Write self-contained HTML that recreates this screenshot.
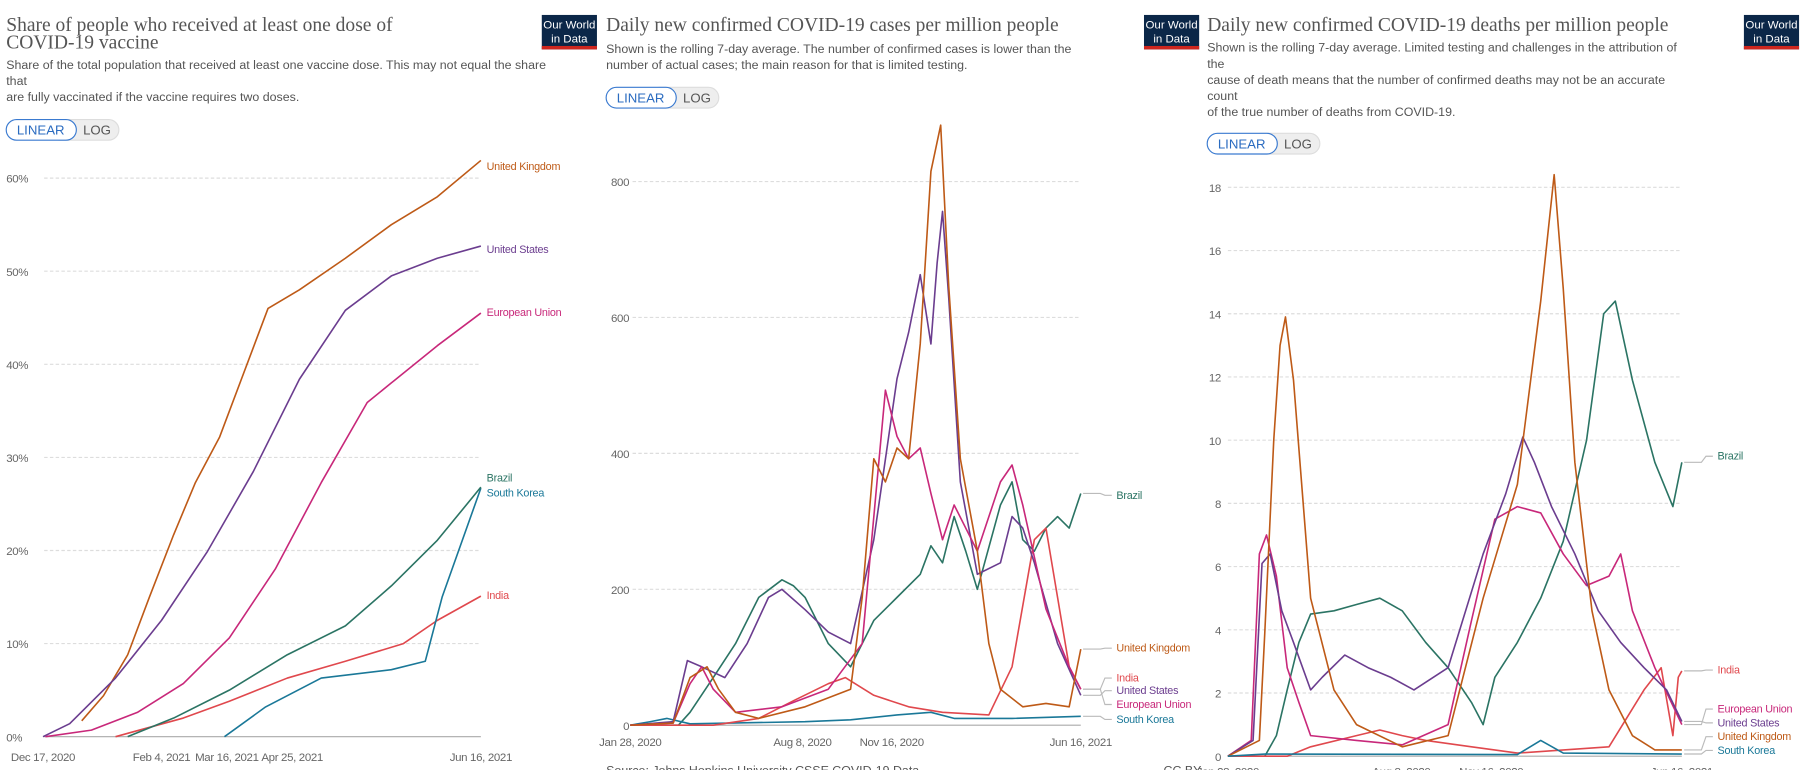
<!DOCTYPE html>
<html><head><meta charset="utf-8"><style>
html,body{margin:0;padding:0;background:#fff;overflow:hidden}
svg{display:block}
.t{font-family:"Liberation Serif",serif;fill:#555;font-size:17px}
.s{font-family:"Liberation Sans",sans-serif;fill:#555;font-size:10.8px}
.k{font-family:"Liberation Sans",sans-serif;fill:#666;font-size:10px;letter-spacing:-0.3px}
.l{font-family:"Liberation Sans",sans-serif;font-size:9.4px;letter-spacing:-0.2px}
</style></head><body>
<svg id="root" width="1803" height="770" viewBox="0 0 1568 670">
</svg>
<script>
// ---------- Panel 1: vaccination share (%) ; x = days since Dec 17, 2020 ----------
const p1Ticks = [0,10,20,30,40,50,60];
const p1TickLabels = ['0%','10%','20%','30%','40%','50%','60%'];
const p1XTicks = [0,49,76,103,181];
const p1XLabels = ['Dec 17, 2020','Feb 4, 2021','Mar 16, 2021','Apr 25, 2021','Jun 16, 2021'];
const p1Names = ['United Kingdom','United States','European Union','Brazil','South Korea','India'];
const p1UKd=[16,25,35,44,54,63,73,82,93,106,125,144,163,181];
const p1UKv=[1.7,4.4,8.8,15,21.7,27.3,32.2,38.4,46,48,51.4,55,58,61.9];
const p1USd=[0,11,30,49,68,87,106,125,144,163,181];
const p1USv=[0,1.4,6.3,12.5,19.9,28.5,38.4,45.8,49.5,51.4,52.7];
const p1EUd=[1,20,39,58,77,96,115,134,144,163,181];
const p1EUv=[0,0.7,2.6,5.7,10.6,18,27.3,35.9,38,42,45.5];
const p1BRd=[35,54,77,101,125,144,163,181];
const p1BRv=[0,2,5,8.8,11.9,16.2,21.1,26.8];
const p1KRd=[75,92,115,144,158,165,181];
const p1KRv=[0,3.2,6.3,7.2,8.1,15,26.7];
const p1INd=[30,58,77,101,125,149,163,181];
const p1INv=[0,2,3.8,6.3,8.1,10,12.5,15.1];

// ---------- Panel 2: daily cases per million ; x = days since Jan 28, 2020 ----------
const p2Ticks=[0,200,400,600,800];
const p2TickLabels=['0','200','400','600','800'];
const p2XTicks=[0,193,293,505];
const p2XLabels=['Jan 28, 2020','Aug 8, 2020','Nov 16, 2020','Jun 16, 2021'];
const p2BRd=[0,54,67,93,118,144,170,183,196,222,247,273,299,325,337,350,363,376,389,415,428,440,453,466,479,492,505];
const p2BRv=[0,0,19,70,120,188,214,205,188,120,86,154,188,222,264,239,307,256,200,324,358,273,256,290,307,290,341];
const p2USd=[0,48,64,80,106,131,155,170,196,222,247,273,299,312,325,337,344,350,357,370,389,415,428,440,453,479,505];
const p2USv=[0,5,95,86,70,120,188,200,170,137,120,273,510,578,663,561,680,756,629,358,222,239,307,290,239,120,44];
const p2UKd=[0,48,67,86,99,118,144,196,247,260,273,286,299,312,325,337,348,357,370,389,402,415,440,466,492,505];
const p2UKv=[0,3,70,86,53,19,10,27,53,188,392,358,408,392,561,815,883,646,392,256,120,53,27,32,27,112];
const p2EUd=[0,48,67,80,93,118,170,222,260,286,299,312,325,337,350,363,389,415,428,440,466,492,505];
const p2EUv=[0,3,61,86,53,19,27,53,120,493,425,392,408,341,273,324,256,358,383,324,171,86,53];
const p2INd=[0,93,144,183,222,241,273,312,350,402,428,453,466,479,492,505];
const p2INv=[0,0,10,36,61,70,44,27,19,15,86,273,290,188,86,53];
const p2KRd=[0,22,41,67,196,247,299,337,363,428,505];
const p2KRv=[0,5,10,2,5,8,15,19,10,10,13];

// ---------- Panel 3: daily deaths per million ----------
const p3Ticks=[0,2,4,6,8,10,12,14,16,18];
const p3TickLabels=['0','2','4','6','8','10','12','14','16','18'];
const p3XTicks=[0,193,293,505];
const p3XLabels=['Jan 28, 2020','Aug 8, 2020','Nov 16, 2020','Jun 16, 2021'];
const p3BRd=[0,41,54,66,79,92,118,143,169,194,220,245,271,284,297,322,348,373,399,418,431,450,475,495,505];
const p3BRv=[0,0,0.65,2.1,3.6,4.5,4.6,4.8,5,4.6,3.6,2.8,1.7,1,2.5,3.6,5,6.8,10,14,14.4,11.9,9.3,7.9,9.3];
const p3USd=[0,28,38,47,60,73,92,105,130,156,181,207,245,284,309,328,341,360,386,412,437,463,488,505];
const p3USv=[0,0.5,6.1,6.4,4.6,3.6,2.1,2.5,3.2,2.8,2.5,2.1,2.8,6.4,8.3,10.1,9.3,7.9,6.4,4.6,3.6,2.8,2.1,1.1];
const p3UKd=[0,35,41,51,58,64,73,92,118,143,194,245,284,303,322,348,363,373,386,405,424,450,475,505];
const p3UKv=[0,0.5,3.9,10,13,13.9,11.9,5,2.1,1,0.3,0.65,5,6.8,8.6,14.4,18.4,14.8,9.3,4.6,2.1,0.65,0.2,0.2];
const p3EUd=[0,26,35,43,54,66,79,92,143,194,245,271,297,322,348,373,399,424,437,450,475,505];
const p3EUv=[0,0.5,6.4,7,5.7,2.8,1.7,0.65,0.5,0.36,1,4.3,7.5,7.9,7.7,6.4,5.4,5.7,6.4,4.6,2.8,1];
const p3INd=[0,66,92,143,169,194,220,271,322,424,463,482,495,501,505];
const p3INv=[0,0,0.3,0.65,0.83,0.65,0.5,0.3,0.1,0.3,2.1,2.8,0.65,2.5,2.7];
const p3KRd=[0,41,322,348,373,505];
const p3KRv=[0,0.07,0.05,0.5,0.1,0.07];

const C={UK:'#be5a17',US:'#6b3d8f',EU:'#c8287a',IN:'#e0484d',BR:'#2b7464',KR:'#1a7898'};
const NS='http://www.w3.org/2000/svg';
const root=document.getElementById('root');
function mk(tag,attrs,parent,text){const e=document.createElementNS(NS,tag);for(const k in attrs)e.setAttribute(k,attrs[k]);if(text!==undefined)e.textContent=text;(parent||root).appendChild(e);return e;}

function header(g,x0,title,sub,subY,btnY,logoX){
  const grp=mk('g',{},g);
  title.forEach((t,i)=>{const e=mk('text',{x:x0,y:27+i*15,class:'t'},grp,t);
    
    });
  sub.forEach((t,i)=>{const e=mk('text',{x:x0,y:subY+i*14,class:'s'},grp,t);
    
    });
  const lb=mk('g',{},grp);
  
  
  mk('rect',{x:x0+38,y:btnY,width:60,height:18,rx:9,fill:'#eee',stroke:'#ddd'},lb);
  mk('rect',{x:x0,y:btnY,width:61,height:18,rx:9,fill:'#fff',stroke:'#3a7ad0'},lb);
  mk('text',{x:x0+30,y:btnY+13,'text-anchor':'middle',fill:'#2a6bc0','font-family':'Liberation Sans, sans-serif','font-size':'11.5px'},lb,'LINEAR');
  const lg=mk('text',{x:x0+79,y:btnY+13,'text-anchor':'middle',fill:'#555','font-family':'Liberation Sans, sans-serif','font-size':'11.5px'},grp,'LOG');
  
  
  const logo=mk('g',{},grp);
  
  
  mk('rect',{x:logoX,y:13,width:48,height:30,fill:'#0b2748'},logo);
  mk('rect',{x:logoX,y:40,width:48,height:3,fill:'#ce261e'},logo);
  mk('text',{x:logoX+24,y:25,'text-anchor':'middle',fill:'#fff','font-family':'Liberation Sans, sans-serif','font-size':'10px'},logo,'Our World');
  mk('text',{x:logoX+24,y:37,'text-anchor':'middle',fill:'#fff','font-family':'Liberation Sans, sans-serif','font-size':'10px'},logo,'in Data');
}

function panel(cfg){
  const g=mk('g',{});
  
  
  const sx=d=>cfg.x0+(d-cfg.dmin)/(cfg.dmax-cfg.dmin)*(cfg.x1-cfg.x0);
  const sy=v=>cfg.y0-(v/cfg.vmax)*(cfg.y0-cfg.y1);
  cfg.ticks.forEach((t,i)=>{
    const y=sy(t);
    const ln=mk('line',{x1:cfg.gx,x2:cfg.x1,y1:y,y2:y,stroke:i==0?'#aaa':'#ddd','stroke-dasharray':i==0?'':'3,2'},g);
    
    
    const tx=mk('text',{x:cfg.lx,y:y+4,class:'k','text-anchor':cfg.lanchor},g,cfg.tickLabels[i]);
    
    
  });
  cfg.xticks.forEach((t,i)=>{
    const tx=mk('text',{x:sx(t),y:cfg.xly,class:'k','text-anchor':'middle'},g,cfg.xlabels[i]);
    
    
  });
  cfg.series.forEach(s=>{
    const pts=s.d.map((d,i)=>sx(d).toFixed(1)+','+sy(s.v[i]).toFixed(1)).join(' ');
    const pl=mk('polyline',{points:pts,fill:'none',stroke:s.c,'stroke-width':1.4,'stroke-linejoin':'round'},g);
    
    
    const endY=sy(s.v[s.v.length-1]);
    if(cfg.connect){
      mk('polyline',{points:`${cfg.x1+2},${endY} ${cfg.labX-14},${endY} ${cfg.labX-10},${s.ly} ${cfg.labX-4},${s.ly}`,fill:'none',stroke:'#bbb','stroke-width':1},g);
    }
    const lt=mk('text',{x:cfg.labX,y:s.ly+3,class:'l',fill:s.c},g,s.n);
    
    
  });
  return g;
}

// Panel 1
let g1=panel({name:'vaccination-chart',x0:37,x1:418,gx:38,dmin:0,dmax:181,y0:641,y1:155,vmax:60,ticks:p1Ticks,tickLabels:p1TickLabels,lx:5,lanchor:'start',xticks:p1XTicks,xlabels:p1XLabels,xly:662,labX:423,connect:false,
 series:[{n:'United Kingdom',c:C.UK,d:p1UKd,v:p1UKv,ly:145},{n:'United States',c:C.US,d:p1USd,v:p1USv,ly:217},{n:'European Union',c:C.EU,d:p1EUd,v:p1EUv,ly:272},{n:'India',c:C.IN,d:p1INd,v:p1INv,ly:518},{n:'South Korea',c:C.KR,d:p1KRd,v:p1KRv,ly:429},{n:'Brazil',c:C.BR,d:p1BRd,v:p1BRv,ly:416}]});
header(g1,5,['Share of people who received at least one dose of','COVID-19 vaccine'],['Share of the total population that received at least one vaccine dose. This may not equal the share','that','are fully vaccinated if the vaccine requires two doses.'],60,104,471);

// Panel 2
let g2=panel({name:'cases-chart',x0:548,x1:940,gx:550,dmin:0,dmax:505,y0:631,y1:158,vmax:800,ticks:p2Ticks,tickLabels:p2TickLabels,lx:547,lanchor:'end',xticks:p2XTicks,xlabels:p2XLabels,xly:649,labX:971,connect:true,
 series:[{n:'Brazil',c:C.BR,d:p2BRd,v:p2BRv,ly:431},{n:'South Korea',c:C.KR,d:p2KRd,v:p2KRv,ly:626},{n:'India',c:C.IN,d:p2INd,v:p2INv,ly:590},{n:'United States',c:C.US,d:p2USd,v:p2USv,ly:601},{n:'European Union',c:C.EU,d:p2EUd,v:p2EUv,ly:613},{n:'United Kingdom',c:C.UK,d:p2UKd,v:p2UKv,ly:564}]});
header(g2,527,['Daily new confirmed COVID-19 cases per million people'],['Shown is the rolling 7-day average. The number of confirmed cases is lower than the','number of actual cases; the main reason for that is limited testing.'],46,76,995);
let src=mk('text',{x:527,y:674,class:'s'},g2,'Source: Johns Hopkins University CSSE COVID-19 Data');


let cc=mk('text',{x:1012,y:674,class:'s'},g2,'CC BY');



// Panel 3
let g3=panel({name:'deaths-chart',x0:1068,x1:1463,gx:1068,dmin:0,dmax:505,y0:658,y1:163,vmax:18,ticks:p3Ticks,tickLabels:p3TickLabels,lx:1062,lanchor:'end',xticks:p3XTicks,xlabels:p3XLabels,xly:675,labX:1494,connect:true,
 series:[{n:'Brazil',c:C.BR,d:p3BRd,v:p3BRv,ly:397},{n:'India',c:C.IN,d:p3INd,v:p3INv,ly:583},{n:'European Union',c:C.EU,d:p3EUd,v:p3EUv,ly:617},{n:'United States',c:C.US,d:p3USd,v:p3USv,ly:629},{n:'United Kingdom',c:C.UK,d:p3UKd,v:p3UKv,ly:641},{n:'South Korea',c:C.KR,d:p3KRd,v:p3KRv,ly:653}]});
header(g3,1050,['Daily new confirmed COVID-19 deaths per million people'],['Shown is the rolling 7-day average. Limited testing and challenges in the attribution of','the','cause of death means that the number of confirmed deaths may not be an accurate','count','of the true number of deaths from COVID-19.'],45,116,1517);
</script>
</body></html>
